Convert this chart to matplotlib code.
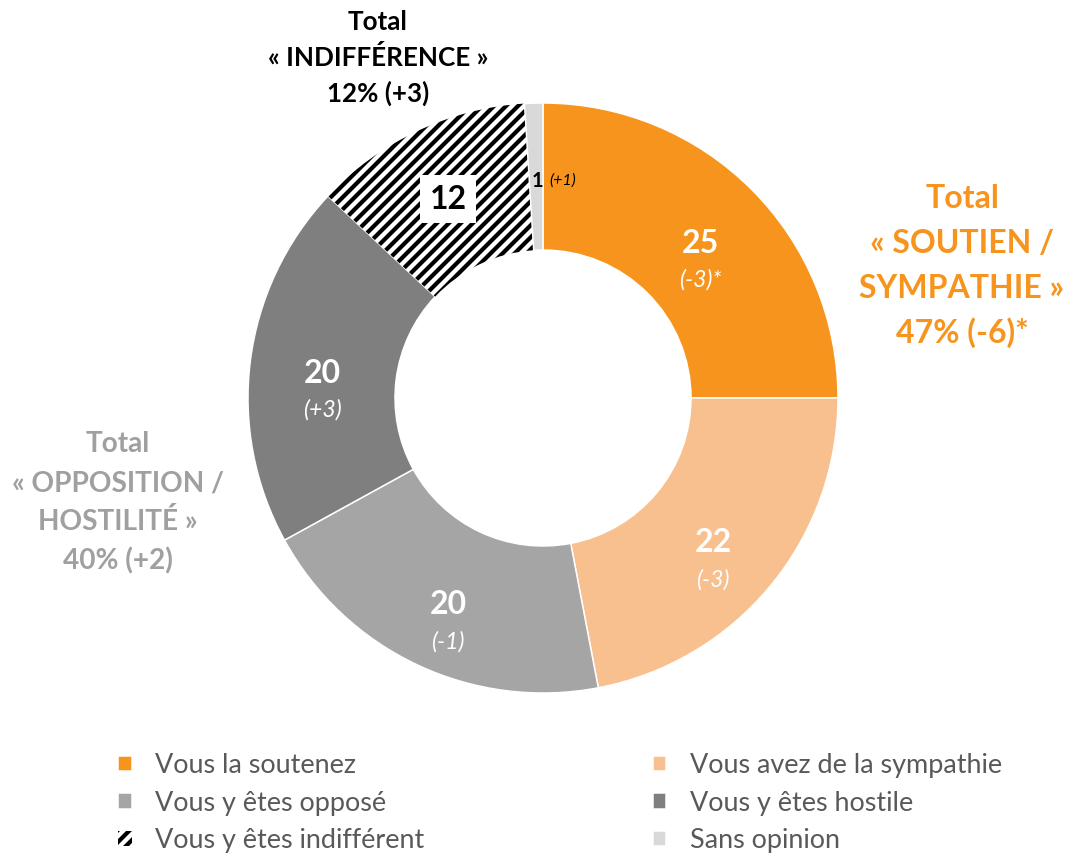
import matplotlib
matplotlib.use("Agg")
from matplotlib import pyplot as plt

# data
labels = ["Vous la soutenez", "Vous avez de la sympathie", "Vous y êtes opposé",
          "Vous y êtes hostile", "Vous y êtes indifférent", "Sans opinion"]
values = [25, 22, 20, 20, 12, 1]
changes = ["(-3)*", "(-3)", "(-1)", "(+3)", "", "(+1)"]
colors = ["#F7941D", "#F9C08F", "#A5A5A5", "#7F7F7F", "white", "#D9D9D9"]

totals_soutien = ["Total", "« SOUTIEN /", "SYMPATHIE »", "47% (-6)*"]
totals_opposition = ["Total", "« OPPOSITION /", "HOSTILITÉ »", "40% (+2)"]
totals_indiff = ["Total", "« INDIFFÉRENCE »", "12% (+3)"]

W, H = 1069, 856
DPI = 72

plt.rcParams["font.family"] = ["Lato", "DejaVu Sans"]
plt.rcParams["hatch.linewidth"] = 4.2
plt.rcParams["hatch.color"] = "black"

fig = plt.figure(figsize=(W / DPI, H / DPI), dpi=DPI)
ax = fig.add_axes([0, 0, 1, 1])

def Y(py):
    return H - py

cx, cy, R = 543, 398, 295
wedges, _ = ax.pie(values, colors=colors, startangle=90, counterclock=False,
                   radius=R, center=(cx, Y(cy)),
                   wedgeprops=dict(width=147, edgecolor="white", linewidth=1.5))
# hachures pour "indifférent"
wedges[4].set_hatch("//")
wedges[4].set_edgecolor("black")
wedges[4].set_linewidth(0)

ax.set_xlim(0, W)
ax.set_ylim(0, H)
ax.set_aspect("equal")
ax.axis("off")

# etiquettes des segments
num_pos = [(700, 243), (713, 543), (448, 605), (322, 373)]
for i, (px, py) in enumerate(num_pos):
    ax.text(px, Y(py), str(values[i]), color="white", fontsize=32, fontweight="bold",
            ha="center", va="center")
    ax.text(px, Y(py + 37), changes[i], color="white", fontsize=23, fontstyle="italic",
            ha="center", va="center")

ax.text(448, Y(199), str(values[4]), color="black", fontsize=32, fontweight="bold",
        ha="center", va="center",
        bbox=dict(facecolor="white", edgecolor="none", boxstyle="square,pad=0.3"))
ax.text(537, Y(181), str(values[5]), color="black", fontsize=20, fontweight="bold",
        ha="center", va="center")
ax.text(563, Y(181), changes[5], color="black", fontsize=16, fontstyle="italic",
        ha="center", va="center")

# totaux
for k, t in enumerate(totals_soutien):
    ax.text(962, Y(198 + k * 45), t, color="#F7941D", fontsize=32, fontweight="bold",
            ha="center", va="center")
for k, t in enumerate(totals_opposition):
    ax.text(118, Y(444 + k * 39), t, color="#A0A0A0", fontsize=28, fontweight="bold",
            ha="center", va="center")
for k, t in enumerate(totals_indiff):
    ax.text(378, Y(22 + k * 35.5), t, color="black", fontsize=26, fontweight="bold",
            ha="center", va="center")

# legende, une colonne a la fois
leg_kw = dict(loc="center left", frameon=False, fontsize=27, handlelength=0.5,
              handleheight=0.5, handletextpad=0.87, labelspacing=0.46,
              borderaxespad=0, borderpad=0)
leg1 = ax.legend([wedges[i] for i in (0, 2, 4)], [labels[i] for i in (0, 2, 4)],
                 bbox_to_anchor=(118 / W, 1 - 803 / H), **leg_kw)
ax.add_artist(leg1)
leg2 = ax.legend([wedges[i] for i in (1, 3, 5)], [labels[i] for i in (1, 3, 5)],
                 bbox_to_anchor=(653 / W, 1 - 803 / H), **leg_kw)
for lg in (leg1, leg2):
    for t in lg.get_texts():
        t.set_color("#595959")

fig.savefig("out.png", dpi=DPI)
